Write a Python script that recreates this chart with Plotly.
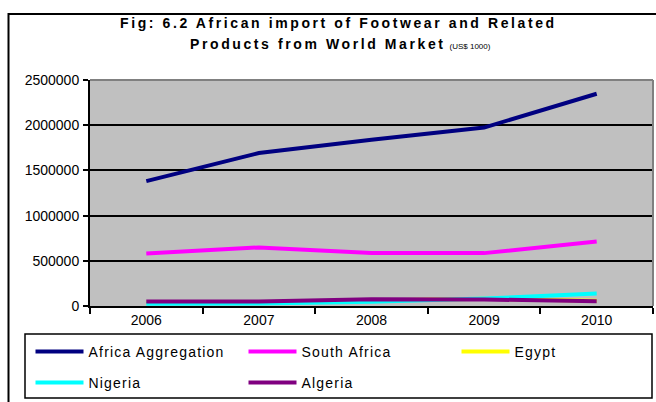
import plotly.graph_objects as go

# Import values, US$ 1000
years = ["2006", "2007", "2008", "2009", "2010"]
africa_aggregation = [1381000, 1692000, 1840000, 1974000, 2348000]
south_africa = [581000, 648000, 585000, 585000, 714000]
egypt = [36000, 39000, 62000, 80000, 58000]
nigeria = [25000, 28000, 48000, 82000, 137000]
algeria = [50000, 50000, 75000, 72000, 52000]

series = [
    ("Africa Aggregation", africa_aggregation, "#000080"),
    ("South Africa", south_africa, "#FF00FF"),
    ("Egypt", egypt, "#FFFF00"),
    ("Nigeria", nigeria, "#00FFFF"),
    ("Algeria", algeria, "#800080"),
]

y_ticks = [0, 500000, 1000000, 1500000, 2000000, 2500000]

FONT = "Liberation Sans, Arial, sans-serif"
W, H = 656, 402
ML, MR, MT, MB = 90, 3, 80, 96
PW, PH = W - ML - MR, H - MT - MB


def px_x(p):
    return (p - ML) / PW


def px_y(p):
    return (H - MB - p) / PH


fig = go.Figure()
for name, vals, color in series:
    fig.add_trace(go.Scatter(
        x=years, y=vals, mode="lines",
        name=(f'<span style="font-size:14px;letter-spacing:1.2px;'
              f'baseline-shift:3px">{name}</span>'),
        line=dict(color=color, width=4),
        hoverinfo="x+y",
    ))

# title lines
fig.add_annotation(
    text='<span style="letter-spacing:2.6px">Fig: 6.2 African import of Footwear and Related</span>',
    xref="paper", yref="paper", x=px_x(338), y=px_y(23),
    xanchor="center", yanchor="middle", showarrow=False,
    font=dict(family=FONT, size=14, color="black", weight="bold"),
)
fig.add_annotation(
    text='<span style="letter-spacing:2.6px">Products from World Market</span> '
         '<span style="font-size:8px;font-weight:normal">(US$ 1000)</span>',
    xref="paper", yref="paper", x=px_x(340), y=px_y(44),
    xanchor="center", yanchor="middle", showarrow=False,
    font=dict(family=FONT, size=14, color="black", weight="bold"),
)

shapes = [
    # chart frame
    dict(type="rect", xref="paper", yref="paper",
         x0=px_x(8.5), x1=px_x(W + 20), y0=px_y(H + 20), y1=px_y(14),
         line=dict(color="black", width=2), fillcolor="rgba(0,0,0,0)", layer="below"),
    # legend frame
    dict(type="rect", xref="paper", yref="paper",
         x0=px_x(25), x1=px_x(652), y0=px_y(398), y1=px_y(334),
         line=dict(color="black", width=1.5), fillcolor="white", layer="below"),
    # plot area border (top and right)
    dict(type="line", xref="paper", yref="paper", x0=0, x1=1, y0=1, y1=1,
         line=dict(color="#808080", width=2)),
    dict(type="line", xref="paper", yref="paper", x0=1, x1=1, y0=0, y1=1,
         line=dict(color="#808080", width=2)),
]

fig.update_layout(
    width=W, height=H,
    margin=dict(l=ML, r=MR, t=MT, b=MB, pad=0, autoexpand=False),
    paper_bgcolor="white",
    plot_bgcolor="#C0C0C0",
    font=dict(family=FONT, size=14, color="black"),
    showlegend=True,
    shapes=shapes,
    legend=dict(
        orientation="h",
        x=px_x(30.5), y=px_y(331), xanchor="left", yanchor="top",
        xref="paper", yref="paper",
        bgcolor="rgba(0,0,0,0)", borderwidth=0,
        font=dict(family=FONT, size=21.5, color="black"),
        entrywidth=150, entrywidthmode="pixels",
        itemwidth=48,
        traceorder="normal",
    ),
    xaxis=dict(
        type="category", range=[-0.5, 4.5],
        showline=True, linecolor="black", linewidth=2,
        ticks="outside", ticklen=6, tickwidth=1.5, tickcolor="black",
        tickson="boundaries", showgrid=False, zeroline=False,
        tickfont=dict(family=FONT, size=14, color="black"),
        fixedrange=True,
    ),
    yaxis=dict(
        range=[0, 2500000], tickvals=y_ticks, ticktext=[str(v) for v in y_ticks],
        showline=True, linecolor="black", linewidth=2,
        ticks="outside", ticklen=5, tickwidth=1.5, tickcolor="black",
        showgrid=True, gridcolor="black", gridwidth=1.5, zeroline=False,
        tickfont=dict(family=FONT, size=14, color="black"),
        ticklabelstandoff=1,
        fixedrange=True,
    ),
)

fig.write_html("out.html")
